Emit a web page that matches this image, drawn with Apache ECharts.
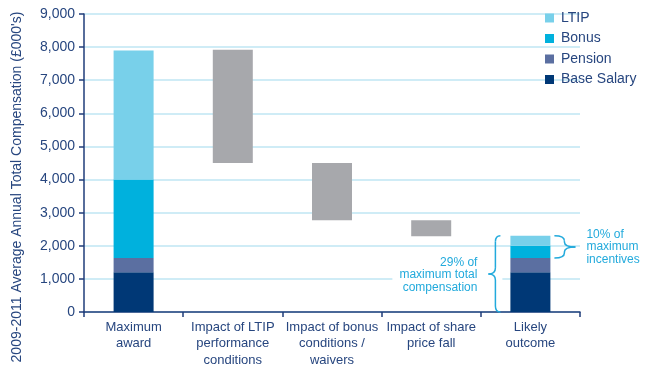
<!DOCTYPE html>
<html>
<head>
<meta charset="utf-8">
<script src="https://cdn.jsdelivr.net/npm/echarts@6/dist/echarts.min.js"></script>
<style>
  html, body { margin: 0; padding: 0; background: #ffffff; }
  #chart { width: 653px; height: 365px; }
</style>
</head>
<body>
<div id="chart"></div>
<script>
// Categories along the x axis
const categories = [
  'Maximum\naward',
  'Impact of LTIP\nperformance\nconditions',
  'Impact of bonus\nconditions /\nwaivers',
  'Impact of share\nprice fall',
  'Likely\noutcome'
];

// Pay components (£000's) for the stacked columns
const baseSalary = [1200, null, null, null, 1200];
const pension    = [430,  null, null, null, 430];
const bonus      = [2370, null, null, null, 370];
const ltip       = [3900, null, null, null, 300];

// Reductions shown as floating grey steps: from upper level down to lower level
const stepFrom = [null, 7920, 4500, 2770, null];
const stepTo   = [null, 4500, 2770, 2290, null];

// Axis scale
const yMin = 0, yMax = 9000, yStep = 1000;

// Notes next to the final column
const totalNote = ['29% of', 'maximum total', 'compensation'];
const incentiveNote = ['10% of', 'maximum', 'incentives'];
const yTitle = "2009-2011 Average Annual Total Compensation (£000's)";

const textBlue = '#27467f';
const axisBlue = '#1f3d7a';
const noteBlue = '#22aadc';
const colors = {
  base: '#003876',
  pension: '#5b6fa1',
  bonus: '#00b1dd',
  ltip: '#78d0ea',
  step: '#a7a8ac'
};
const font = 'Liberation Sans, Arial, sans-serif';

const stepBase = stepTo;
const stepSize = stepFrom.map((v, i) => (v == null ? null : v - stepTo[i]));

const chart = echarts.init(document.getElementById('chart'), null, { renderer: 'canvas' });

const barW = 40;
const stackBar = (name, data, color) => ({
  name, type: 'bar', stack: 'total', data, barWidth: barW,
  itemStyle: { color }, emphasis: { disabled: true }
});

chart.setOption({
  animation: false,
  backgroundColor: '#ffffff',
  textStyle: { fontFamily: font },
  grid: { left: 84, right: 73, top: 14, bottom: 53, containLabel: false, outerBoundsMode: 'none' },
  legend: {
    data: ['LTIP', 'Bonus', 'Pension', 'Base Salary'],
    orient: 'vertical',
    left: 540, top: 6,
    itemWidth: 9, itemHeight: 9, itemGap: 6.5,
    icon: 'rect',
    textStyle: { color: textBlue, fontSize: 14, fontFamily: font, padding: [0, 0, 0, 2] }
  },
  xAxis: {
    type: 'category',
    data: categories,
    boundaryGap: true,
    axisLine: { lineStyle: { color: axisBlue, width: 1.5 } },
    axisTick: { show: true, alignWithLabel: false, length: 5, lineStyle: { color: axisBlue, width: 1.5 } },
    axisLabel: { color: textBlue, fontSize: 13, lineHeight: 16.5, margin: 7, fontFamily: font, interval: 0 }
  },
  yAxis: {
    type: 'value',
    min: yMin, max: yMax, interval: yStep,
    axisLine: { show: true, lineStyle: { color: axisBlue, width: 1.5 } },
    axisTick: { show: true, length: 5, lineStyle: { color: axisBlue, width: 1.5 } },
    axisLabel: {
      color: textBlue, fontSize: 14, margin: 9, fontFamily: font,
      formatter: v => v.toLocaleString('en-US')
    },
    splitLine: { show: true, lineStyle: { color: '#bfe6f3', width: 1.5 } }
  },
  series: [
    {
      name: 'offset', type: 'bar', stack: 'total', data: stepBase, barWidth: barW,
      itemStyle: { color: 'rgba(0,0,0,0)' }, silent: true, emphasis: { disabled: true }
    },
    stackBar('Base Salary', baseSalary, colors.base),
    stackBar('Pension', pension, colors.pension),
    stackBar('Bonus', bonus, colors.bonus),
    stackBar('LTIP', ltip, colors.ltip),
    stackBar('Change', stepSize, colors.step)
  ]
});

// Braces and notes beside the final column, positioned from the data
function drawNotes() {
  const i = categories.length - 1;
  const total = baseSalary[i] + pension[i] + bonus[i] + ltip[i];
  const incentiveLow = baseSalary[i] + pension[i];
  const px = v => chart.convertToPixel({ gridIndex: 0 }, [i, v]);
  const cx = px(0)[0];
  const y0 = px(0)[1];
  const yTop = px(total)[1];
  const yInc = px(incentiveLow)[1];
  const half = barW / 2;

  const stroke = { stroke: noteBlue, lineWidth: 1.5, fill: null };
  function brace(hookX, spineX, tipX, top, bottom, r) {
    const mid = (top + bottom) / 2;
    const q = (x1, y1, cpx, cpy, x2, y2) => ({
      type: 'bezierCurve', z: 20,
      shape: { x1, y1, x2, y2, cpx1: cpx, cpy1: cpy }, style: stroke
    });
    const l = (x1, y1, x2, y2) => ({ type: 'line', z: 20, shape: { x1, y1, x2, y2 }, style: stroke });
    return [
      q(hookX, top, spineX, top, spineX, top + r),
      l(spineX, top + r, spineX, mid - r),
      q(spineX, mid - r, spineX, mid, tipX, mid),
      q(tipX, mid, spineX, mid, spineX, mid + r),
      l(spineX, mid + r, spineX, bottom - r),
      q(spineX, bottom - r, spineX, bottom, hookX, bottom)
    ];
  }

  const leftHook = cx - half - 10, leftSpine = cx - half - 15, leftTip = cx - half - 22;
  const rightHook = cx + half + 4, rightSpine = cx + half + 14, rightTip = cx + half + 25;
  const padR = 25;

  const elements = []
    .concat(brace(leftHook, leftSpine, leftTip, yTop, y0, 6))
    .concat(brace(rightHook, rightSpine, rightTip, yTop, yInc, 5))
    .concat([
      {
        type: 'text', z: 10,
        style: {
          text: totalNote.join('\n'),
          x: leftTip - 11 + padR, y: (yTop + y0) / 2 + 1,
          align: 'right', verticalAlign: 'middle',
          fontSize: 12, fontFamily: font, lineHeight: 12.5, fill: noteBlue,
          backgroundColor: '#ffffff', padding: [2, padR, 2, 7]
        }
      },
      {
        type: 'text', z: 10,
        style: {
          text: incentiveNote.join('\n'),
          x: rightTip + 11, y: (yTop + yInc) / 2,
          align: 'left', verticalAlign: 'middle',
          fontSize: 12, fontFamily: font, lineHeight: 12.7, fill: noteBlue
        }
      },
      {
        type: 'text', z: 10,
        rotation: Math.PI / 2,
        x: 17, y: 187,
        style: {
          text: yTitle,
          x: 0, y: 0, align: 'center', verticalAlign: 'middle',
          fontSize: 14, fontFamily: font, fill: textBlue
        }
      }
    ]);

  chart.setOption({ graphic: { elements } });
}
drawNotes();
</script>
</body>
</html>
